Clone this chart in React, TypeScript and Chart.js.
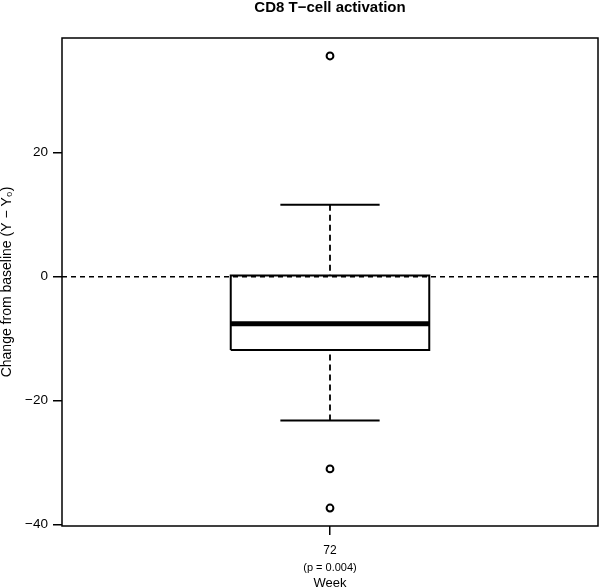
import React, { useEffect, useRef } from 'react';
import { Chart, registerables } from 'chart.js';

Chart.register(...registerables);

// ---- data ----
const weeks = ['72'];
const pLabels = ['(p = 0.004)'];
const whiskerLow = [-23.2];
const q1 = [-11.8];
const median = [-7.6];
const q3 = [0.2];
const whiskerHigh = [11.6];
const outliers = [[35.6, -31.0, -37.3]];
const yTicks = [-40, -20, 0, 20];
const referenceLine = 0;

const TITLE = 'CD8 T\u2212cell activation';
const Y_TITLE = 'Change from baseline (Y \u2212 Y\u2080)';
const X_TITLE = 'Week';

// ---- layout / style ----
const Y_MIN = -40.2;
const Y_MAX = 38.5;
const X_MIN = 0.46;
const X_MAX = 1.54;
const BOX_HALF = 0.2;
const CAP_HALF = 0.1;
const FONT = "'Liberation Sans', Arial, Helvetica, sans-serif";

const minus = (v: number) => (v < 0 ? '\u2212' + Math.abs(v) : String(v));

export default function App() {
  const ref = useRef<HTMLCanvasElement | null>(null);

  useEffect(() => {
    if (!ref.current) return;
    const datasets: any[] = [];
    const lineBase = {
      showLine: true,
      pointRadius: 0,
      pointHoverRadius: 0,
      borderColor: '#000',
      backgroundColor: 'rgba(0,0,0,0)',
      fill: false,
      tension: 0,
      borderCapStyle: 'butt',
      borderJoinStyle: 'miter',
    };
    datasets.push({
      ...lineBase,
      data: [
        { x: X_MIN, y: referenceLine },
        { x: X_MAX, y: referenceLine },
      ],
      borderWidth: 1.3,
      borderDash: [5, 4],
    });
    weeks.forEach((_, i) => {
      const c = i + 1;
      datasets.push({
        ...lineBase,
        data: [
          { x: c, y: whiskerHigh[i] },
          { x: c, y: q3[i] },
        ],
        borderWidth: 1.8,
        borderDash: [6, 4],
      });
      datasets.push({
        ...lineBase,
        data: [
          { x: c, y: whiskerLow[i] },
          { x: c, y: q1[i] },
        ],
        borderWidth: 1.8,
        borderDash: [6, 4],
      });
      datasets.push({
        ...lineBase,
        data: [
          { x: c - CAP_HALF, y: whiskerHigh[i] },
          { x: c + CAP_HALF, y: whiskerHigh[i] },
        ],
        borderWidth: 2,
      });
      datasets.push({
        ...lineBase,
        data: [
          { x: c - CAP_HALF, y: whiskerLow[i] },
          { x: c + CAP_HALF, y: whiskerLow[i] },
        ],
        borderWidth: 2,
      });
      datasets.push({
        ...lineBase,
        data: [
          { x: c - BOX_HALF, y: q1[i] },
          { x: c - BOX_HALF, y: q3[i] },
          { x: c + BOX_HALF, y: q3[i] },
          { x: c + BOX_HALF, y: q1[i] },
          { x: c - BOX_HALF, y: q1[i] },
        ],
        borderWidth: 2,
      });
      datasets.push({
        ...lineBase,
        data: [
          { x: c - BOX_HALF, y: median[i] },
          { x: c + BOX_HALF, y: median[i] },
        ],
        borderWidth: 5,
      });
      datasets.push({
        showLine: false,
        data: outliers[i].map((v) => ({ x: c, y: v })),
        pointRadius: 3.4,
        pointHoverRadius: 3.4,
        pointBorderWidth: 2,
        pointBorderColor: '#000',
        pointBackgroundColor: 'rgba(0,0,0,0)',
      });
    });

    const framePlugin = {
      id: 'frame',
      afterDraw(chart: any) {
        const { ctx, chartArea } = chart;
        ctx.save();
        ctx.strokeStyle = '#000';
        ctx.lineWidth = 1.5;
        ctx.strokeRect(
          chartArea.left,
          chartArea.top,
          chartArea.right - chartArea.left,
          chartArea.bottom - chartArea.top
        );
        const xs = chart.scales.x;
        ctx.fillStyle = '#000';
        ctx.font = `11px ${FONT}`;
        ctx.textAlign = 'center';
        ctx.textBaseline = 'middle';
        pLabels.forEach((p, i) => {
          ctx.fillText(p, xs.getPixelForValue(i + 1), xs.top + 42);
        });
        ctx.restore();
      },
    };

    const chart = new Chart(ref.current, {
      type: 'scatter',
      data: { datasets },
      plugins: [framePlugin],
      options: {
        animation: false,
        responsive: false,
        devicePixelRatio: 1,
        layout: { autoPadding: false, padding: { top: 0, right: 2, left: 0, bottom: 0 } },
        plugins: {
          legend: { display: false },
          tooltip: { enabled: false },
          title: {
            display: true,
            text: TITLE,
            fullSize: false,
            color: '#000',
            font: { family: FONT, size: 15, weight: 'bold', lineHeight: 1.0 },
            padding: { top: 0, bottom: 23 },
          },
        },
        scales: {
          x: {
            type: 'linear',
            min: X_MIN,
            max: X_MAX,
            afterBuildTicks: (s: any) => {
              s.ticks = weeks.map((_, i) => ({ value: i + 1 }));
            },
            afterFit: (s: any) => {
              s.height = 61;
              s.paddingLeft = 0;
              s.paddingRight = 0;
            },
            ticks: {
              callback: (v: any) => weeks[Math.round(v) - 1] ?? '',
              color: '#000',
              font: { family: FONT, size: 12 },
              padding: 8,
              maxRotation: 0,
              autoSkip: false,
            },
            grid: {
              display: true,
              drawOnChartArea: false,
              drawTicks: true,
              tickLength: 9,
              color: '#000',
              lineWidth: 1.5,
            },
            border: { display: false },
            title: {
              display: true,
              text: X_TITLE,
              color: '#000',
              font: { family: FONT, size: 13, lineHeight: 0.6 },
              padding: 0,
            },
          },
          y: {
            type: 'linear',
            min: Y_MIN,
            max: Y_MAX,
            afterBuildTicks: (s: any) => {
              s.ticks = yTicks.map((v) => ({ value: v }));
            },
            afterFit: (s: any) => {
              s.width = 62;
              s.paddingTop = 0;
              s.paddingBottom = 0;
            },
            ticks: {
              callback: (v: any) => minus(Number(v)),
              color: '#000',
              font: { family: FONT, size: 13.5 },
              padding: 5,
              autoSkip: false,
            },
            grid: {
              display: true,
              drawOnChartArea: false,
              drawTicks: true,
              tickLength: 9,
              color: '#000',
              lineWidth: 1.5,
            },
            border: { display: false },
            title: {
              display: true,
              text: Y_TITLE,
              color: '#000',
              font: { family: FONT, size: 14, lineHeight: 1.0 },
              padding: 0,
            },
          },
        },
      } as any,
    });
    return () => chart.destroy();
  }, []);

  return (
    <div style={{ position: 'fixed', left: 0, top: 0, width: 600, height: 587, background: '#fff' }}>
      <canvas ref={ref} width={600} height={587} style={{ display: 'block' }} />
    </div>
  );
}
